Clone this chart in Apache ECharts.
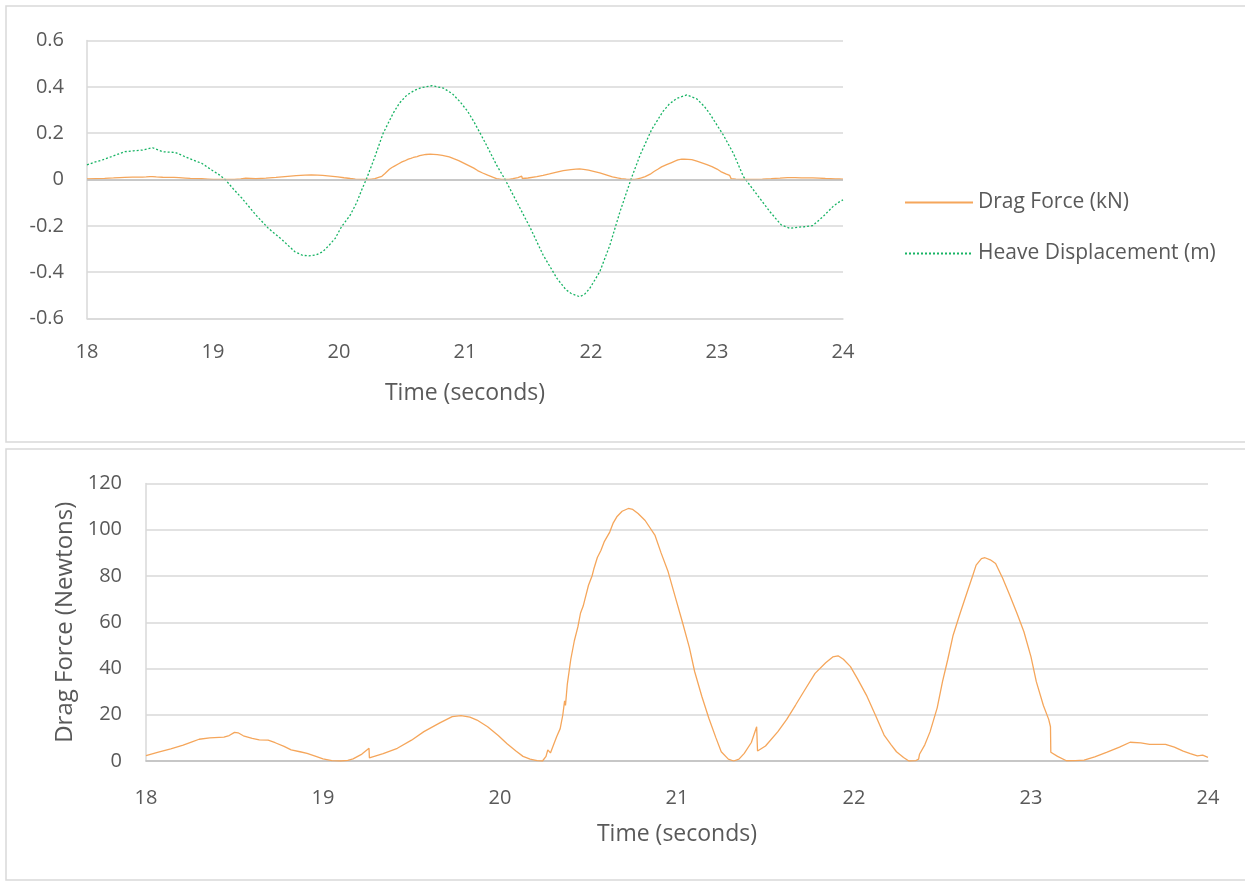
<!DOCTYPE html>
<html>
<head>
<meta charset="utf-8">
<script src="https://cdn.jsdelivr.net/npm/echarts@6/dist/echarts.min.js"></script>
<style>
html,body{margin:0;padding:0;background:#fff;}
#c{width:1245px;height:882px;}
</style>
</head>
<body>
<div id="c"></div>
<script>
// ---- Data ----
const xTicks = [18, 19, 20, 21, 22, 23, 24];
const yTicksTop = [-0.6, -0.4, -0.2, 0, 0.2, 0.4, 0.6];
const yTicksBottom = [0, 20, 40, 60, 80, 100, 120];

// Drag force (Newtons) vs time (s)
const dragTime = [18.00,18.07,18.14,18.21,18.26,18.30,18.36,18.44,18.47,18.50,18.52,18.55,18.60,18.64,18.69,18.73,18.78,18.82,18.87,18.91,18.96,19.00,19.05,19.10,19.14,19.17,19.22,19.26,19.262,19.34,19.42,19.50,19.57,19.66,19.73,19.78,19.83,19.87,19.93,19.99,20.04,20.09,20.13,20.17,20.21,20.24,20.26,20.27,20.285,20.30,20.32,20.34,20.355,20.365,20.37,20.38,20.40,20.42,20.44,20.455,20.47,20.48,20.50,20.52,20.53,20.55,20.57,20.59,20.62,20.64,20.66,20.69,20.725,20.75,20.78,20.82,20.875,20.91,20.95,20.99,21.03,21.07,21.10,21.14,21.18,21.22,21.25,21.29,21.32,21.35,21.38,21.42,21.45,21.455,21.50,21.57,21.62,21.67,21.72,21.78,21.84,21.88,21.91,21.94,21.98,22.02,22.07,22.12,22.17,22.21,22.24,22.28,22.31,22.35,22.365,22.37,22.40,22.43,22.47,22.50,22.53,22.56,22.60,22.64,22.67,22.69,22.72,22.74,22.77,22.80,22.84,22.88,22.92,22.96,23.00,23.03,23.07,23.10,23.11,23.112,23.15,23.20,23.25,23.30,23.36,23.43,23.50,23.56,23.62,23.67,23.76,23.81,23.86,23.90,23.94,23.97,24.00];
const dragN = [2.3,3.8,5.2,6.9,8.3,9.4,10.0,10.3,11.0,12.4,12.2,10.9,9.8,9.1,9.0,7.9,6.3,4.8,4.0,3.3,2.0,0.9,0.2,0,0.3,0.9,3.0,5.5,1.4,3.2,5.5,9.0,12.7,16.5,19.2,19.6,19.0,17.7,14.8,11.0,7.5,4.3,2.0,0.8,0.2,0,2.0,4.8,3.5,6.5,10.5,14,20,26,24,33,44,52,58,64,67,70,76,80,83,88,91,95,99,103,105.6,108,109.2,108.8,107,104,97.7,90,81.8,71,60.2,49,38.6,28,18.5,10,4.0,0.8,0,0.8,3.3,8,14.8,4.3,6.5,12.7,18,24.2,30.5,37.9,42.5,45,45.5,44,40.8,35.5,28.5,20,11.2,7,4.0,1.5,0,0.2,0.8,2.9,7,12.7,23,34.3,44,54.4,64,73.2,80,84.7,87.5,87.9,87,85.4,79,71.7,64,55.9,45,34.3,24,18,14.8,3.8,2,0.1,0.2,0.4,1.8,3.8,6,8.1,7.8,7.2,7.2,6,4.3,3.2,2.2,2.5,1.6];

// Heave displacement (m) vs time (s)
const heaveTime = [18.00,18.06,18.12,18.20,18.30,18.37,18.44,18.52,18.60,18.65,18.70,18.76,18.81,18.91,18.99,19.05,19.10,19.16,19.23,19.34,19.44,19.55,19.65,19.71,19.76,19.82,19.87,19.92,19.97,20.02,20.09,20.14,20.18,20.22,20.28,20.35,20.43,20.48,20.54,20.60,20.65,20.74,20.83,20.90,20.96,21.02,21.07,21.12,21.17,21.25,21.32,21.41,21.52,21.62,21.73,21.80,21.84,21.91,21.95,21.99,22.07,22.15,22.23,22.32,22.39,22.48,22.57,22.62,22.68,22.76,22.84,22.90,22.94,23.05,23.13,23.21,23.32,23.42,23.51,23.58,23.64,23.69,23.76,23.84,23.92,23.96,24.00];
const heaveM = [0.063,0.075,0.084,0.100,0.120,0.124,0.127,0.137,0.120,0.118,0.117,0.103,0.091,0.070,0.041,0.020,-0.002,-0.040,-0.081,-0.153,-0.211,-0.261,-0.312,-0.327,-0.330,-0.325,-0.312,-0.285,-0.254,-0.204,-0.153,-0.100,-0.045,0.005,0.091,0.199,0.286,0.330,0.365,0.385,0.396,0.405,0.394,0.370,0.336,0.295,0.250,0.200,0.149,0.063,-0.002,-0.096,-0.211,-0.326,-0.427,-0.475,-0.491,-0.506,-0.495,-0.470,-0.398,-0.283,-0.139,0.005,0.106,0.214,0.293,0.325,0.350,0.365,0.348,0.315,0.286,0.192,0.113,0.012,-0.067,-0.139,-0.196,-0.211,-0.206,-0.204,-0.199,-0.161,-0.117,-0.100,-0.088];

// ---- Build ----
const pair = (xs, ys, k) => xs.map((x, i) => [x, ys[i] * (k || 1)]);
const dragKN = pair(dragTime, dragN, 0.001); // unit conversion N -> kN for top chart
const dragNewton = pair(dragTime, dragN);
const heave = pair(heaveTime, heaveM);

const TXT = '#595959', GRID = '#D9D9D9', AX = '#BFBFBF';
const FONT = '"Open Sans", sans-serif';
const ORANGE = '#F5A65B', GREEN = '#17B364';

function xAx(gi) {
  return {
    type: 'value', gridIndex: gi, min: xTicks[0], max: xTicks[xTicks.length - 1], interval: 1,
    name: 'Time (seconds)', nameLocation: 'middle', nameGap: gi === 0 ? 63 : 62,
    nameTextStyle: { color: TXT, fontSize: 23, fontFamily: FONT },
    axisLine: { show: true, onZero: false, lineStyle: { color: gi === 0 ? GRID : AX, width: 1.5 } },
    axisTick: { show: false },
    axisLabel: { color: TXT, fontSize: 20, fontFamily: FONT, margin: gi === 0 ? 24 : 27 },
    splitLine: { show: false }
  };
}

const chart = echarts.init(document.getElementById('c'), null, { renderer: 'canvas' });
chart.setOption({
  animation: false,
  backgroundColor: '#fff',
  graphic: [
    { type: 'rect', shape: { x: 6, y: 6, width: 1240, height: 436 }, style: { fill: 'none', stroke: '#D9D9D9', lineWidth: 1.5 }, silent: true },
    { type: 'rect', shape: { x: 6, y: 449, width: 1240, height: 431 }, style: { fill: 'none', stroke: '#D9D9D9', lineWidth: 1.5 }, silent: true }
  ],
  grid: [
    { left: 87, top: 40.5, width: 756, height: 278 },
    { left: 146, top: 483.5, width: 1062, height: 277.5 }
  ],
  legend: {
    data: ['Drag Force (kN)', 'Heave Displacement (m)'],
    orient: 'vertical', left: 904, top: 192, padding: 0,
    itemWidth: 68, itemHeight: 14, itemGap: 30,
    itemStyle: { opacity: 0 },
    textStyle: { color: TXT, fontSize: 21, fontFamily: FONT },
    selectedMode: false
  },
  xAxis: [xAx(0), xAx(1)],
  yAxis: [
    {
      type: 'value', gridIndex: 0, min: yTicksTop[0], max: yTicksTop[yTicksTop.length - 1], interval: 0.2,
      axisLine: { show: true, lineStyle: { color: GRID, width: 1.5 } },
      axisTick: { show: false },
      axisLabel: { color: TXT, fontSize: 20, fontFamily: FONT, margin: 23 },
      splitLine: { show: true, lineStyle: { color: GRID, width: 1.5 } }
    },
    {
      type: 'value', gridIndex: 1, min: yTicksBottom[0], max: yTicksBottom[yTicksBottom.length - 1], interval: 20,
      name: 'Drag Force (Newtons)', nameLocation: 'middle', nameGap: 68, nameRotate: 90,
      nameTextStyle: { color: TXT, fontSize: 24, fontFamily: FONT },
      axisLine: { show: true, lineStyle: { color: GRID, width: 1.5 } },
      axisTick: { show: false },
      axisLabel: { color: TXT, fontSize: 20, fontFamily: FONT, margin: 24 },
      splitLine: { show: true, lineStyle: { color: GRID, width: 1.5 } }
    }
  ],
  series: [
    {
      name: 'Drag Force (kN)', type: 'line', xAxisIndex: 0, yAxisIndex: 0, data: dragKN,
      symbol: 'none', showSymbol: false, color: ORANGE, lineStyle: { color: ORANGE, width: 1.3 }, z: 3,
      markLine: { silent: true, symbol: 'none', label: { show: false }, animation: false,
        lineStyle: { color: AX, width: 1.5, type: 'solid' }, data: [{ yAxis: 0 }] }
    },
    {
      name: 'Heave Displacement (m)', type: 'line', xAxisIndex: 0, yAxisIndex: 0, data: heave,
      symbol: 'none', showSymbol: false, color: GREEN, lineStyle: { color: GREEN, width: 1.3, type: [2, 2] }, z: 4
    },
    {
      name: 'Drag Force (N)', type: 'line', xAxisIndex: 1, yAxisIndex: 1, data: dragNewton,
      symbol: 'none', showSymbol: false, color: ORANGE, lineStyle: { color: ORANGE, width: 1.3 }
    }
  ]
});
</script>
</body>
</html>
